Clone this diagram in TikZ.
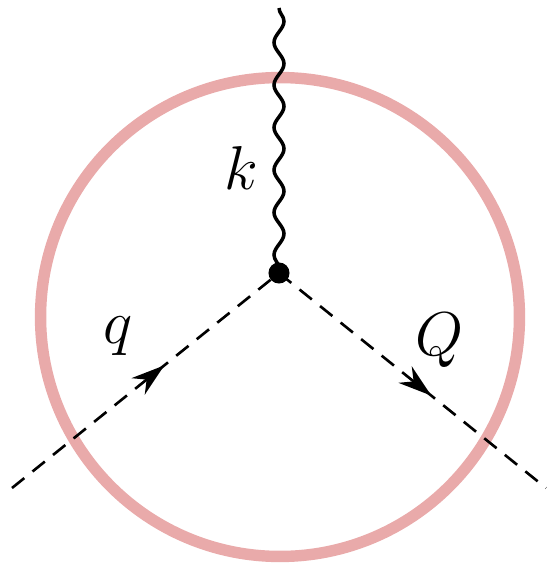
\documentclass[tikz,border=0pt]{standalone}
\usetikzlibrary{arrows.meta,decorations.pathmorphing,decorations.markings}
\definecolor{ringred}{RGB}{233,170,170}
\newcommand{\biglbl}[1]{\scalebox{1.7}{$#1$}}
\tikzset{
  scalar/.style={line width=1.5pt, dash pattern=on 9pt off 6pt,
    postaction={decorate}, decoration={markings,
      mark=at position 0.57 with {\arrow{Stealth[length=19pt,width=12pt]}}}},
  photon/.style={line width=2pt, decorate,
    decoration={snake, segment length=0.85cm, amplitude=0.1cm}},
  lbl/.style={font=\huge},
}
\begin{document}
\begin{tikzpicture}[x=0.02cm, y=-0.02cm]
  \useasboundingbox (0,0) rectangle (548,564);
  \draw[ringred, line width=6.5pt] (280,317) circle (4.79cm);
  \coordinate (top)   at (279,8);
  \coordinate (left)  at (12,488);
  \coordinate (right) at (546,488);
  \node[circle, fill, inner sep=0pt, minimum size=12pt] (v) at (279,273) {};
  \draw[photon] (top) -- (v.center);
  \draw[scalar] (left) -- (v.center);
  \draw[scalar] (v.center) -- (right);
  \node[lbl] (k) at (241,168) {\biglbl{k}};
  \node[lbl] (q) at (118,336) {\biglbl{q}};
  \node[lbl] (Q) at (440,340) {\biglbl{Q}};
\end{tikzpicture}
\end{document}
